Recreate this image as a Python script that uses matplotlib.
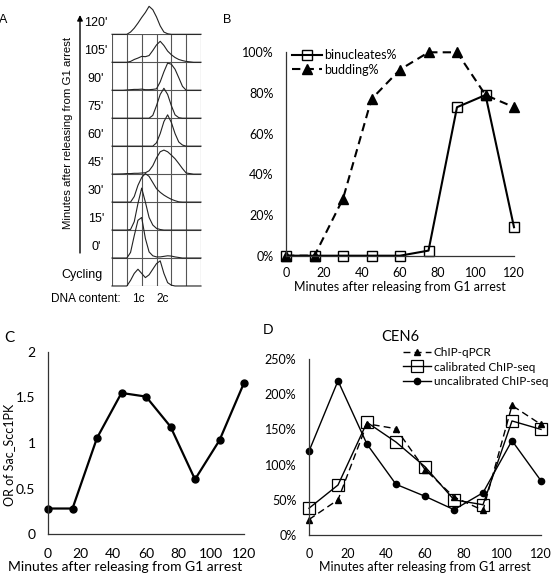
import numpy as np
import matplotlib
matplotlib.use("Agg")
from matplotlib import pyplot as plt

# ---- data ----
minutes = [0, 15, 30, 45, 60, 75, 90, 105, 120]

# panel B (percent)
binucleates = [0, 0, 0, 0, 0, 2.5, 73, 79, 14]
budding = [0, 0, 28, 77, 91.5, 100, 100, 79, 73]

# panel C
or_scc1 = [0.28, 0.28, 1.055, 1.55, 1.51, 1.18, 0.60, 1.03, 1.66]

# panel D (percent)
chip_qpcr = [22, 50, 158, 151, 93, 54, 35, 184, 157]
calibrated = [38, 71, 160, 132, 97, 50, 43, 162, 150]
uncalibrated = [119, 219, 129, 72, 55, 36, 60, 134, 77]

# panel A: FACS profiles, x in grid columns (0-6), height in row units
facs_x = [0, 0.75, 1.0, 1.25, 1.5, 1.75, 2.0, 2.25, 2.5, 2.75, 3.0,
          3.25, 3.5, 3.75, 4.0, 4.25, 4.5, 4.75, 5.0, 5.5, 6.0]
facs_labels = ["Cycling", "0'", "15'", "30'", "45'", "60'", "75'", "90'", "105'", "120'"]
facs_cycling = [0, 0, 0, 0.20, 0.45, 0.60, 0.45, 0.30, 0.40, 0.60, 0.80, 0.90, 0.45, 0.12, 0.03, 0, 0, 0, 0, 0, 0]
facs_0 = [0, 0, 0, 0.20, 0.80, 1.35, 1.45, 0.70, 0.22, 0.08, 0.04, 0.04, 0.06, 0.08, 0.07, 0.04, 0.02, 0, 0, 0, 0]
facs_15 = [0, 0, 0, 0.02, 0.30, 0.95, 1.50, 1.00, 0.45, 0.18, 0.06, 0.02, 0, 0, 0, 0, 0, 0, 0, 0, 0]
facs_30 = [0, 0, 0, 0, 0.20, 0.60, 0.88, 1.02, 0.92, 0.70, 0.48, 0.35, 0.25, 0.17, 0.10, 0.05, 0.01, 0, 0, 0, 0]
facs_45 = [0, 0.01, 0.02, 0.02, 0.03, 0.03, 0.04, 0.05, 0.12, 0.30, 0.58, 0.80, 0.86, 0.80, 0.68, 0.55, 0.38, 0.20, 0.04, 0, 0]
facs_60 = [0, 0, 0, 0, 0, 0, 0, 0, 0, 0, 0.12, 0.45, 0.88, 1.12, 0.85, 0.45, 0.15, 0.04, 0, 0, 0]
facs_75 = [0, 0, 0, 0, 0, 0, 0, 0, 0, 0.10, 0.45, 0.85, 1.07, 0.85, 0.45, 0.12, 0.02, 0, 0, 0, 0]
facs_90 = [0, 0, 0.01, 0.02, 0.03, 0.03, 0.04, 0.02, 0.02, 0.03, 0.05, 0.30, 0.66, 0.97, 0.93, 0.75, 0.45, 0.14, 0, 0, 0]
facs_105 = [0, 0, 0, 0.03, 0.10, 0.15, 0.21, 0.20, 0.24, 0.42, 0.62, 0.75, 0.60, 0.40, 0.27, 0.17, 0.10, 0.06, 0.03, 0, 0]
facs_120 = [0, 0, 0, 0.08, 0.22, 0.40, 0.60, 0.78, 1.00, 0.88, 0.62, 0.30, 0.08, 0.02, 0, 0, 0, 0, 0, 0, 0]
facs_rows = [facs_cycling, facs_0, facs_15, facs_30, facs_45, facs_60, facs_75, facs_90, facs_105, facs_120]

# ---- layout helpers (pixel coords of the 551x578 image) ----
W, H = 551, 578
def box(l, t, r, b):
    return [l / W, 1 - b / H, (r - l) / W, (b - t) / H]

ARIAL = "Liberation Sans"
CALIBRI = "Lato"

fig = plt.figure(figsize=(W / 100, H / 100), dpi=100)

# overlay axes in pixel coordinates for free text
ov = fig.add_axes([0, 0, 1, 1])
ov.set_xlim(0, W)
ov.set_ylim(H, 0)
ov.axis("off")

# ---- panel A ----
ax_a = fig.add_axes(box(112, 34.3, 201, 286))
ax_a.set_xlim(0, 6)
ax_a.set_ylim(0, 9)
ax_a.axis("off")
gcol = "#555555"
for i in range(7):
    ax_a.plot([i, i], [0, 9], color=gcol, lw=0.8)
for j in range(10):
    ax_a.plot([0, 6], [j, j], color=gcol, lw=0.8)
for j, prof in enumerate(facs_rows):
    ax_a.plot(facs_x, np.array(prof) + j, color="#222222", lw=0.8, clip_on=False)
for j, lab in enumerate(facs_labels):
    if lab == "Cycling":
        xp = 82.5
    else:
        xp = 96
    ov.text(xp, 286 - 28 * j - 11, lab, ha="center", va="center", fontsize=9, family=ARIAL)

ov.annotate("", xy=(80, 15), xytext=(80, 253),
            arrowprops=dict(arrowstyle="-|>", lw=1.0, color="black", mutation_scale=8, shrinkA=0, shrinkB=0))
ov.text(68, 133, "Minutes after releasing from G1 arrest", rotation=90, ha="center", va="center",
        fontsize=8.2, family=ARIAL)
ov.text(50.7, 299, "DNA content:", ha="left", va="center", fontsize=8.5, family=ARIAL)
ov.text(138, 299, "1c", ha="center", va="center", fontsize=8.5, family=ARIAL)
ov.text(163, 299, "2c", ha="center", va="center", fontsize=8.5, family=ARIAL)

ov.text(3.5, 20, "A", ha="center", va="center", fontsize=9, family=ARIAL)
ov.text(227, 20, "B", ha="center", va="center", fontsize=9, family=ARIAL)
ov.text(9.5, 338, "C", ha="center", va="center", fontsize=11, family=CALIBRI)
ov.text(268, 330, "D", ha="center", va="center", fontsize=10, family=CALIBRI)


def excel_axes(ax, fs, ypad, xpad):
    for s in ["top", "right"]:
        ax.spines[s].set_visible(False)
    for s in ["left", "bottom"]:
        ax.spines[s].set_color("#333333")
        ax.spines[s].set_linewidth(0.9)
    ax.tick_params(length=0, labelsize=fs)
    ax.tick_params(axis="y", pad=ypad)
    ax.tick_params(axis="x", pad=xpad)
    for t in ax.get_xticklabels() + ax.get_yticklabels():
        t.set_family(CALIBRI)


# ---- panel B ----
ax_b = fig.add_axes(box(286, 52.3, 514, 255.7))
ax_b.plot(minutes, np.array(binucleates) / 100, color="black", lw=1.5, marker="s", ms=7,
          mfc="none", mec="black", mew=1.0, clip_on=False, label="binucleates%")
ax_b.plot(minutes, np.array(budding) / 100, color="black", lw=1.5, dashes=(4, 2.5), marker="^",
          ms=7, mfc="black", mec="black", clip_on=False, label="budding%")
ax_b.set_xlim(0, 120)
ax_b.set_ylim(0, 1)
ax_b.set_xticks(range(0, 121, 20))
ax_b.set_yticks([0, 0.2, 0.4, 0.6, 0.8, 1.0])
ax_b.set_yticklabels(["0%", "20%", "40%", "60%", "80%", "100%"])
excel_axes(ax_b, 9, 9, 8)
ax_b.legend(loc="upper left", bbox_to_anchor=(292 / W, 1 - 49 / H), bbox_transform=fig.transFigure,
            frameon=False, handlelength=2.4, handletextpad=0.2, labelspacing=0.2, borderpad=0,
            borderaxespad=0, prop={"family": CALIBRI, "size": 9})
ov.text(400, 287, "Minutes after releasing from G1 arrest", ha="center", va="center",
        fontsize=9, family=CALIBRI)

# ---- panel C ----
ax_c = fig.add_axes(box(48, 352, 244, 534))
ax_c.plot(minutes, or_scc1, color="black", lw=1.6, marker="o", ms=5, mfc="black", clip_on=False)
ax_c.set_xlim(0, 120)
ax_c.set_ylim(0, 2)
ax_c.set_xticks(range(0, 121, 20))
ax_c.set_yticks([0, 0.5, 1, 1.5, 2])
ax_c.set_yticklabels(["0", "0.5", "1", "1.5", "2"])
excel_axes(ax_c, 10, 9, 10)
ov.text(125, 567, "Minutes after releasing from G1 arrest", ha="center", va="center",
        fontsize=10, family=CALIBRI)
ov.text(9.5, 455, "OR of Sac_Scc1PK", rotation=90, ha="center", va="center",
        fontsize=9, family=CALIBRI)

# ---- panel D ----
ax_d = fig.add_axes(box(309, 359, 541, 535))
ax_d.plot(minutes, np.array(chip_qpcr) / 100, color="black", lw=1.0, dashes=(5, 3), marker="^",
          ms=5, mfc="black", mec="black", clip_on=False, label="ChIP-qPCR")
ax_d.plot(minutes, np.array(calibrated) / 100, color="black", lw=1.0, marker="s", ms=8,
          mfc="none", mec="black", mew=0.9, clip_on=False, label="calibrated ChIP-seq")
ax_d.plot(minutes, np.array(uncalibrated) / 100, color="black", lw=1.0, marker="o", ms=4.5,
          mfc="black", mec="black", clip_on=False, label="uncalibrated ChIP-seq")
ax_d.set_xlim(0, 120)
ax_d.set_ylim(0, 2.5)
ax_d.set_xticks(range(0, 121, 20))
ax_d.set_yticks([0, 0.5, 1, 1.5, 2, 2.5])
ax_d.set_yticklabels(["0%", "50%", "100%", "150%", "200%", "250%"])
excel_axes(ax_d, 9, 9, 9)
ax_d.legend(loc="upper left", bbox_to_anchor=(403 / W, 1 - 347 / H), bbox_transform=fig.transFigure,
            frameon=False, handlelength=2.4, handletextpad=0.2, labelspacing=0.3, borderpad=0,
            borderaxespad=0, prop={"family": CALIBRI, "size": 8.5})
ov.text(400, 337, "CEN6", ha="center", va="center", fontsize=10.5, family=CALIBRI)
ov.text(425, 567, "Minutes after releasing from G1 arrest", ha="center", va="center",
        fontsize=9, family=CALIBRI)

fig.savefig("out.png", dpi=100)
